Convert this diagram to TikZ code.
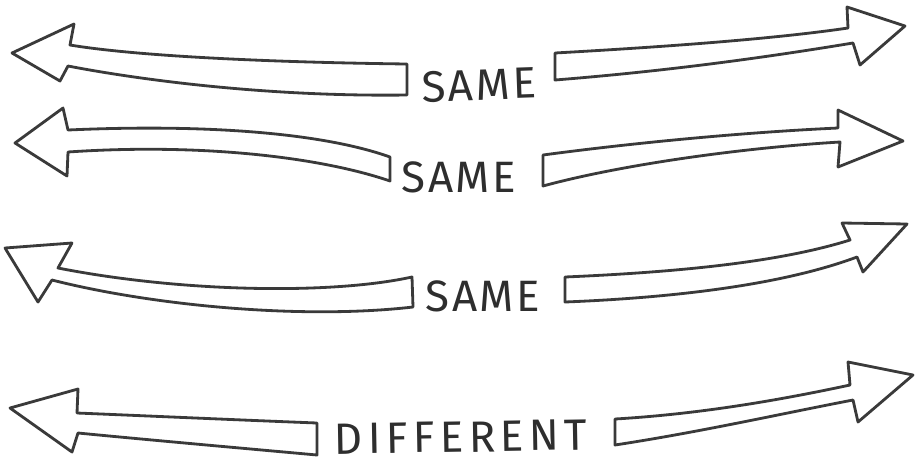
\documentclass[tikz,border=0pt]{standalone}
\usepackage{fontspec}
\newfontfamily\handfont[LetterSpace=6]{Fira Sans}
\definecolor{pencil}{HTML}{3A3A3A}
\tikzstyle{outline}=[draw=pencil, line width=1.6pt, line join=round, fill=white]
\tikzstyle{word}=[text=pencil!80!black, font=\handfont\fontsize{25}{28}\selectfont,
        inner sep=0pt, outer sep=0pt]

\begin{document}
\begin{tikzpicture}[x=0.02cm, y=-0.02cm]
        \useasboundingbox (0,0) rectangle (915,464);

        % row 1
        \draw[outline] (407,64) .. controls (250,62) and (130,55) .. (70,45)
            -- (74,24) -- (12,53) -- (60,81) -- (68,66)
            .. controls (130,78) and (260,97) .. (407,95) -- cycle;
        \node[word, rotate=2] (0) at (479,85) {SAME};
        \draw[outline] (555,53) .. controls (680,46) and (780,38) .. (848,28)
            -- (847,7) -- (905,26) -- (860,65) -- (853,43)
            .. controls (780,55) and (680,70) .. (555,80) -- cycle;

        % row 2
        \draw[outline] (390,157) .. controls (320,132) and (200,124) .. (68,130)
            -- (63,108) -- (15,143) -- (67,176) -- (68,152)
            .. controls (200,143) and (320,157) .. (390,181) -- cycle;
        \node[word] (1) at (459,177) {SAME};
        \draw[outline] (543,155) .. controls (640,142) and (750,132) .. (838,128)
            -- (838,110) -- (903,141) -- (838,167) -- (840,142)
            .. controls (740,148) and (620,165) .. (543,186) -- cycle;

        % row 3
        \draw[outline] (412,277) .. controls (330,295) and (180,292) .. (58,268)
            -- (72,243) -- (5,248) -- (38,302) -- (52,280)
            .. controls (150,305) and (300,320) .. (413,307) -- cycle;
        \node[word] (2) at (483,296) {SAME};
        \draw[outline] (565,277) .. controls (680,272) and (780,262) .. (850,240)
            -- (842,223) -- (907,224) -- (863,272) -- (857,257)
            .. controls (790,282) and (690,297) .. (565,302) -- cycle;

        % row 4
        \draw[outline] (317,423) .. controls (240,420) and (150,416) .. (77,413)
            -- (78,389) -- (10,408) -- (72,452) -- (78,433)
            .. controls (150,440) and (240,448) .. (317,455) -- cycle;
        \node[word, rotate=1] (3) at (461,437)
            {\addfontfeature{LetterSpace=12}DIFFERENT};
        \draw[outline] (615,419) .. controls (700,414) and (780,400) .. (850,385)
            -- (848,362) -- (913,375) -- (858,422) -- (853,400)
            .. controls (780,414) and (700,432) .. (615,445) -- cycle;
\end{tikzpicture}
\end{document}
